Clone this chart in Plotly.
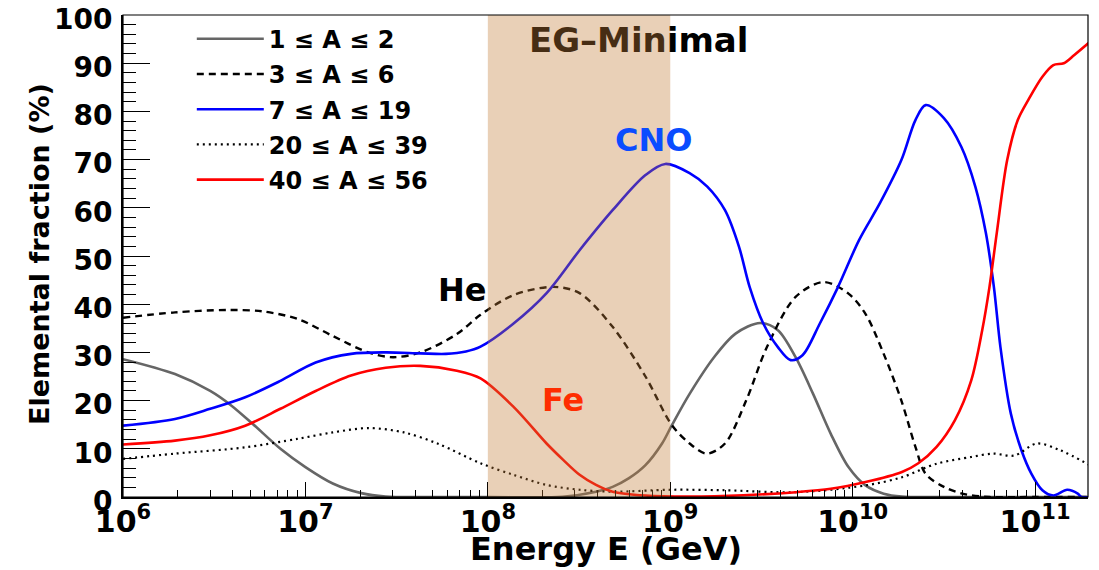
import plotly.graph_objects as go

# ---------------- data (log10 E in GeV, fraction in %) ----------------
p_logE = [6.0, 6.285, 6.478, 6.593, 6.71, 6.863, 7.0, 7.15, 7.306, 7.44, 7.7, 8.0, 8.41,
          8.593, 8.684, 8.774, 8.864, 8.955, 9.009, 9.106, 9.24, 9.358, 9.493, 9.59, 9.687,
          9.783, 9.88, 9.977, 10.07, 10.17, 10.27, 10.5, 11.0, 11.3]
p_frac = [28.6, 25.5, 22, 19, 15.2, 10, 6.2, 2.8, 0.8, 0.1, 0, 0, 0.05,
          1.1, 2.1, 3.9, 6.6, 11.1, 14.9, 21.4, 29, 33.9, 36.1, 34.6, 29,
          21.4, 13.1, 6.2, 2.4, 0.7, 0.1, 0, 0, 0]

he_logE = [6.0, 6.285, 6.574, 6.767, 6.96, 7.15, 7.345, 7.48, 7.63, 7.83, 7.96, 8.141, 8.36,
           8.503, 8.684, 8.864, 9.009, 9.106, 9.2, 9.3, 9.416, 9.53, 9.687, 9.84, 9.977,
           10.07, 10.17, 10.267, 10.344, 10.4, 10.5, 10.6, 10.75, 11.0, 11.3]
he_frac = [37.2, 38.3, 38.8, 38.5, 36.9, 33.4, 30, 29, 30, 33.8, 37.8, 41.9, 43.6,
           42.3, 35.3, 25, 14.9, 11.1, 9, 11.1, 20, 31.1, 41.5, 44.6, 42.2,
           38, 29.7, 20, 10.4, 4.8, 2.1, 0.7, 0, 0, 0]

cno_logE = [6.0, 6.285, 6.478, 6.67, 6.863, 7.056, 7.25, 7.44, 7.63, 7.77, 7.88, 7.96, 8.141,
            8.322, 8.503, 8.684, 8.864, 8.973, 9.106, 9.203, 9.30, 9.377, 9.435, 9.51,
            9.59, 9.66, 9.725, 9.82, 9.92, 10.035, 10.15, 10.267, 10.344, 10.40, 10.50,
            10.596, 10.673, 10.73, 10.774, 10.81, 10.867, 10.925, 10.98, 11.04, 11.1,
            11.176, 11.234, 11.253, 11.3]
cno_frac = [14.8, 16.2, 18.3, 20.7, 24.1, 27.9, 29.7, 30, 29.8, 29.7, 30.2, 31.2, 36,
            42.3, 51.2, 59.5, 66.8, 69.1, 67.2, 64.4, 59.5, 51.9, 43.6, 36,
            31.1, 28.4, 29.4, 36, 43.6, 53.3, 61, 69.9, 78.2, 81.3, 78.6,
            72.6, 64.3, 54.8, 43.6, 31.1, 17.3, 9.7, 4.8, 1.4, 0.3,
            1.5, 0.7, 0, 0]

mid_logE = [6.0, 6.285, 6.67, 6.96, 7.15, 7.345, 7.54, 7.73, 7.96, 8.141, 8.322, 8.503,
            8.684, 9.0, 9.3, 9.687, 10.07, 10.27, 10.46, 10.65, 10.77, 10.886, 11.01,
            11.137, 11.3]
mid_frac = [7.9, 9, 10.3, 12.1, 13.4, 14.3, 13.4, 11, 7, 4.6, 2.5, 1.5,
            1.1, 1.5, 1.4, 1.0, 2.4, 4.1, 6.9, 8.3, 9, 8.6, 11.1,
            9.7, 6.6]

fe_logE = [6.0, 6.285, 6.478, 6.67, 6.863, 7.056, 7.25, 7.44, 7.63, 7.83, 7.96, 8.141, 8.322,
           8.413, 8.503, 8.593, 8.684, 8.864, 9.1, 9.4, 9.69, 9.88, 10.07, 10.27, 10.36,
           10.46, 10.56, 10.65, 10.71, 10.75, 10.79, 10.847, 10.905, 10.963, 11.04,
           11.1, 11.157, 11.215, 11.3]
fe_frac = [10.9, 11.7, 12.8, 14.8, 18.3, 22, 25.2, 26.8, 27.2, 26.2, 24.6, 18.7, 11.1,
           7.7, 4.6, 2.5, 1.1, 0.3, 0.1, 0.35, 1, 1.7, 3.1, 5.2, 7,
           10.4, 15.9, 24.2, 34.6, 43.6, 54.8, 69.9, 78.2, 82.4, 87.2,
           89.6, 90, 91.7, 94.4]

series_names = ["1 \u2264 A \u2264 2", "3 \u2264 A \u2264 6", "7 \u2264 A \u2264 19",
                "20 \u2264 A \u2264 39", "40 \u2264 A \u2264 56"]
x_tick_exp = [6, 7, 8, 9, 10, 11]
y_ticks = [0, 10, 20, 30, 40, 50, 60, 70, 80, 90, 100]
band_E = [1e8, 1e9]

FONT = "DejaVu Sans"
# The page body has a default 8px margin, so the figure is shifted by OFF px.
OFF = 8
W, H = 1099 - OFF, 570 - OFF
ML, MT = 123 - OFF, 15 - OFF
MR = W - (1088 - OFF)
MB = H - (497 - OFF)
pw, ph = W - ML - MR, H - MT - MB


def px2paper(x, y):
    """screen pixel (window coords) -> paper coords"""
    return ((x - OFF) - ML) / pw, (H - MB - (y - OFF)) / ph


fig = go.Figure()

styles = [
    dict(color="#666666", width=2.6, dash="solid"),
    dict(color="black", width=2.4, dash="7px,5px"),
    dict(color="#0000ff", width=2.6, dash="solid"),
    dict(color="black", width=2.2, dash="2px,4px"),
    dict(color="#ff0000", width=2.6, dash="solid"),
]
datasets = [(p_logE, p_frac), (he_logE, he_frac), (cno_logE, cno_frac),
            (mid_logE, mid_frac), (fe_logE, fe_frac)]

for i, ((lx, fy), name, st) in enumerate(zip(datasets, series_names, styles)):
    fig.add_trace(go.Scatter(
        x=[10 ** v for v in lx], y=fy, mode="lines", name=name,
        line=dict(color=st["color"], width=st["width"], dash=st["dash"],
                  shape="spline", smoothing=0.9),
        legendgroup=f"g{i}", hoverinfo="skip"))

# Label drawn beneath the band (band is semi-transparent on top)
fig.add_trace(go.Scatter(
    x=[10 ** 8.827], y=[94.0], mode="text", text=["EG\u2013Minimal"],
    textfont=dict(family=FONT, size=34, color="black", weight="bold"),
    textposition="middle center", showlegend=False, hoverinfo="skip"))

fig.add_shape(type="rect", xref="x", yref="y", x0=band_E[0], x1=band_E[1], y0=0, y1=100,
              fillcolor="rgba(194,125,55,0.36)", line=dict(width=0), layer="above")
# frame
fig.add_shape(type="rect", xref="paper", yref="paper", x0=0, x1=1, y0=0, y1=1,
              line=dict(color="black", width=1.2), layer="above")

ann_font = dict(family=FONT, size=32, weight="bold")
fig.add_annotation(x=7.857, y=43.0, xref="x", yref="y", text="He", showarrow=False,
                   font=dict(ann_font, color="black"))
fig.add_annotation(x=8.41, y=20.2, xref="x", yref="y", text="Fe", showarrow=False,
                   font=dict(ann_font, color="#ff2d00"))
fig.add_annotation(x=8.91, y=74.0, xref="x", yref="y", text="CNO", showarrow=False,
                   font=dict(ann_font, color="#0a4cff"))

# axis titles
tx, ty = px2paper(606, 549)
fig.add_annotation(x=tx, y=ty, xref="paper", yref="paper", text="Energy E (GeV)",
                   showarrow=False, xanchor="center", yanchor="middle",
                   font=dict(family=FONT, size=32, weight="bold", color="black"))
tx, ty = px2paper(39, 254)
fig.add_annotation(x=tx, y=ty, xref="paper", yref="paper", text="Elemental fraction (%)",
                   showarrow=False, textangle=-90, xanchor="center", yanchor="middle",
                   font=dict(family=FONT, size=27, weight="bold", color="black"))

minor_x = [k * 10 ** n for n in range(6, 12) for k in range(2, 10)]

fig.update_layout(
    width=W, height=H, autosize=False,
    margin=dict(l=ML, r=MR, t=MT, b=MB, pad=0, autoexpand=False),
    paper_bgcolor="white", plot_bgcolor="white",
    font=dict(family=FONT, color="black"),
    xaxis=dict(type="log", range=[6, 11.29], showgrid=False, zeroline=False,
               showline=True, linecolor="black", linewidth=2,
               ticks="inside", ticklen=15, tickwidth=1.3, tickcolor="black",
               tickmode="array", tickvals=[10 ** e for e in x_tick_exp],
               ticktext=[f"10<sup>{e}</sup>" for e in x_tick_exp],
               ticklabelstandoff=-3, automargin=False, ticklabeloverflow="allow",
               tickfont=dict(family=FONT, size=30, weight="bold"),
               minor=dict(ticks="inside", ticklen=7, tickwidth=1.2, tickcolor="black",
                          tickmode="array", tickvals=minor_x, showgrid=False)),
    yaxis=dict(range=[0, 100], showgrid=False, zeroline=False,
               showline=True, linecolor="black", linewidth=2,
               ticks="inside", ticklen=27, tickwidth=1.3, tickcolor="black",
               tickmode="array", tickvals=y_ticks, ticktext=[str(v) for v in y_ticks],
               ticklabelstandoff=3, ticklabelshift=4, automargin=False,
               ticklabeloverflow="allow",
               tickfont=dict(family=FONT, size=28, weight="bold"),
               minor=dict(ticks="inside", ticklen=13, tickwidth=1.2, tickcolor="black",
                          tickmode="linear", tick0=0, dtick=2, showgrid=False)),
    legend=dict(x=0.0713, y=0.9965, xanchor="left", yanchor="top",
                bgcolor="rgba(0,0,0,0)", borderwidth=0, itemwidth=67,
                tracegroupgap=1,
                font=dict(family=FONT, size=24, weight="bold", color="black")),
    showlegend=True,
)

fig.write_html("out.html")
